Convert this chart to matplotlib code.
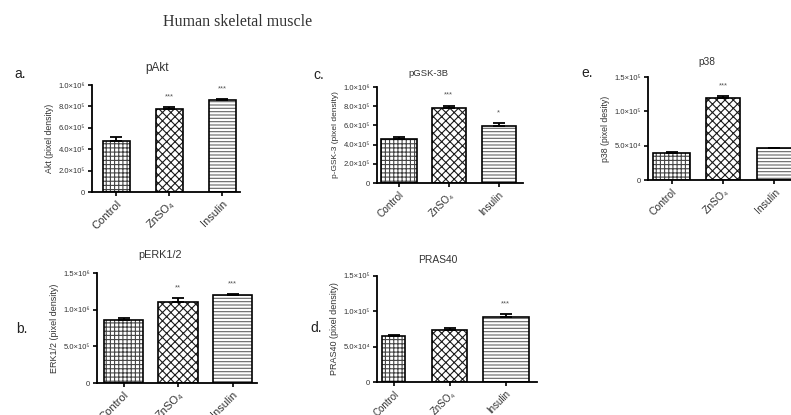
"""Human skeletal muscle: five Prism-style bar panels."""

import matplotlib
matplotlib.use("Agg")
import matplotlib.pyplot as plt
import matplotlib.transforms as mtransforms

W, H = 791, 415

groups = ["Control", "ZnSO₄", "Insulin"]

pakt_mean = [4.8e5, 7.8e5, 8.6e5]
pakt_err = [0.3e5, 0.15e5, 0.05e5]
pakt_stars = ["", "***", "***"]

pgsk_mean = [4.6e5, 7.85e5, 5.95e5]
pgsk_err = [0.15e5, 0.2e5, 0.25e5]
pgsk_stars = ["", "***", "*"]

p38_mean = [3.9e4, 1.2e5, 4.6e4]
p38_err = [0.2e4, 0.2e4, 0.1e4]
p38_stars = ["", "***", ""]

perk_mean = [8.6e5, 1.1e6, 1.2e6]
perk_err = [0.3e5, 0.6e5, 0.1e5]
perk_stars = ["", "**", "***"]

pras_mean = [6.5e4, 7.3e4, 9.2e4]
pras_err = [0.2e4, 0.3e4, 0.4e4]
pras_stars = ["", "", "***"]

ticks_1e6 = [0, 2e5, 4e5, 6e5, 8e5, 1e6]
ticklabels_1e6 = ["0", "2.0×10⁵", "4.0×10⁵", "6.0×10⁵", "8.0×10⁵", "1.0×10⁶"]
ticks_15e6 = [0, 5e5, 1e6, 1.5e6]
ticklabels_15e6 = ["0", "5.0×10⁵", "1.0×10⁶", "1.5×10⁶"]
ticks_15e5 = [0, 5e4, 1e5, 1.5e5]
ticklabels_15e5 = ["0", "5.0×10⁴", "1.0×10⁵", "1.5×10⁵"]

SANS = ["Liberation Sans", "DejaVu Sans"]
plt.rcParams["font.family"] = SANS
plt.rcParams["hatch.linewidth"] = 0.8

hatches = ["++++", "xxxx", "-----"]
hatch_colors = ["#444444", "#1a1a1a", "#666666"]


def px_axes(fig, left, top, right, bottom):
    return fig.add_axes([left / W, 1 - bottom / H, (right - left) / W, (bottom - top) / H])


def panel(fig, box, xlim, widths, means, errs, stars, ticks, ticklabels,
          ylabel, title, title_xy, letter, letter_xy, sizes):
    title_size, xtick_size, ylabel_size = sizes
    ax = px_axes(fig, *box)
    x = list(range(len(groups)))
    for xi, m, w, h, hc in zip(x, means, widths, hatches, hatch_colors):
        ax.bar(xi, m, width=w, color="white", edgecolor=hc, hatch=h, linewidth=0)
        ax.bar(xi, m, width=w, fill=False, edgecolor="black", linewidth=1.2)
    ax.errorbar(x, means, yerr=[[0] * len(errs), errs], fmt="none",
                ecolor="black", elinewidth=1.3, capsize=4, capthick=1.3)
    for xi, m, e, s in zip(x, means, errs, stars):
        if s:
            ax.annotate(s, (xi, m + e), xytext=(0, 5), textcoords="offset points",
                        ha="center", va="bottom", fontsize=5.5, color="#555555")
    ax.set_xlim(*xlim)
    ax.set_ylim(0, ticks[-1])
    ax.set_yticks(ticks)
    ax.set_yticklabels(ticklabels, fontsize=5.5, color="#333333")
    ax.set_xticks(x)
    ax.set_xticklabels(groups, rotation=45, ha="right", va="top", rotation_mode="anchor",
                       fontsize=xtick_size, color="#333333")
    shift = mtransforms.ScaledTranslation(4 / 100, 0, fig.dpi_scale_trans)
    for lab in ax.get_xticklabels():
        lab.set_transform(lab.get_transform() + shift)
    ax.tick_params(axis="both", direction="out", length=3, width=1.2, pad=2)
    ax.set_ylabel(ylabel, fontsize=ylabel_size, color="#333333", labelpad=3)
    for side in ("top", "right"):
        ax.spines[side].set_visible(False)
    for side in ("left", "bottom"):
        ax.spines[side].set_linewidth(1.3)
    fig.text(title_xy[0] / W, 1 - title_xy[1] / H, title, ha="center", va="center",
             fontsize=title_size, color="#333333")
    fig.text(letter_xy[0] / W, 1 - letter_xy[1] / H, letter, ha="left", va="center",
             fontsize=10, color="#222222")
    return ax


def main():
    fig = plt.figure(figsize=(W / 100, H / 100), dpi=100)
    fig.patch.set_facecolor("white")

    fig.text(163 / W, 1 - 22 / H, "Human skeletal muscle", ha="left", va="center",
             fontsize=11.5, family=["Liberation Serif", "DejaVu Serif"], color="#333333")

    panel(fig, (92, 85, 240, 192), (-0.46, 2.34), [0.51, 0.51, 0.51],
          pakt_mean, pakt_err, pakt_stars, ticks_1e6, ticklabels_1e6,
          "Akt (pixel density)", "pAkt", (157, 68), "a.", (14, 74), (8.5, 8, 6.3))
    panel(fig, (377, 87, 523, 183), (-0.43, 2.49), [0.72, 0.68, 0.68],
          pgsk_mean, pgsk_err, pgsk_stars, ticks_1e6, ticklabels_1e6,
          "p-GSK-3 (pixel density)", "pGSK-3B", (428, 73), "c.", (313, 75), (6.8, 7.2, 6))
    panel(fig, (648, 77, 800, 180), (-0.46, 2.5), [0.72, 0.68, 0.68],
          p38_mean, p38_err, p38_stars, ticks_15e5, ticklabels_15e5,
          "p38 (pixel desity)", "p38", (707, 62), "e.", (581, 73), (7.3, 7.5, 6.3))
    panel(fig, (97, 273, 257, 383), (-0.49, 2.45), [0.72, 0.72, 0.72],
          perk_mean, perk_err, perk_stars, ticks_15e6, ticklabels_15e6,
          "ERK1/2 (pixel density)", "pERK1/2", (160, 255), "b.", (16, 329), (7.8, 8, 6.5))
    panel(fig, (377, 276, 537, 382), (-0.3, 2.56), [0.41, 0.63, 0.82],
          pras_mean, pras_err, pras_stars, ticks_15e5, ticklabels_15e5,
          "PRAS40 (pixel density)", "PRAS40", (438, 260), "d.", (310, 328), (7.4, 7, 6.5))

    fig.savefig("out.png", dpi=100)
    plt.close(fig)


if __name__ == "__main__":
    main()
